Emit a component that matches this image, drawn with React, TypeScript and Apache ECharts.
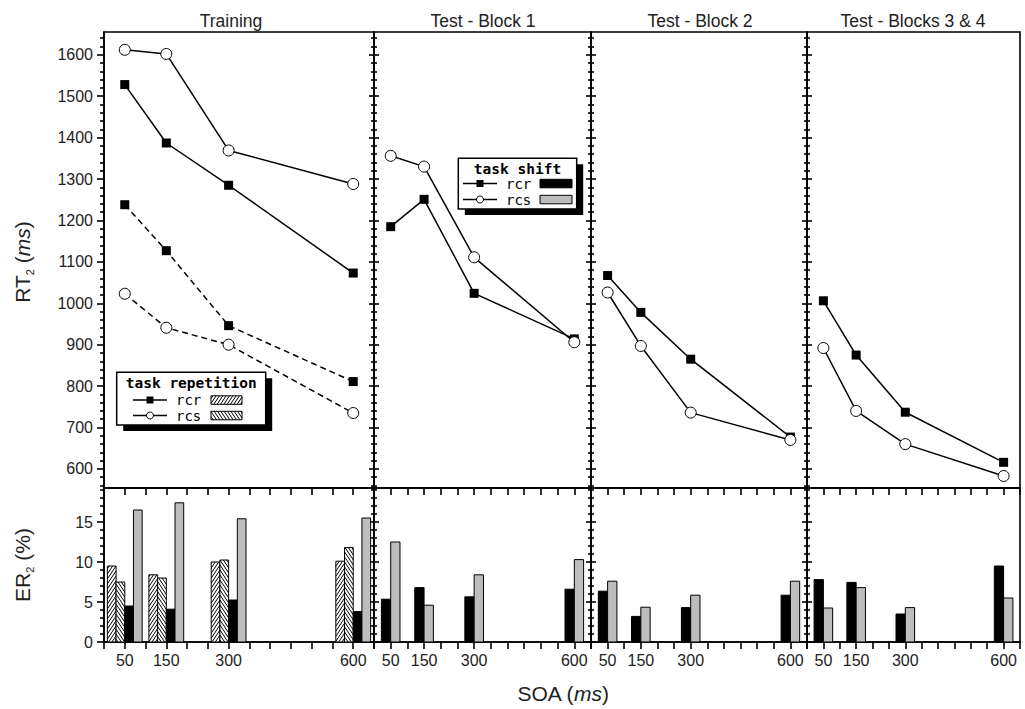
import React, { useEffect, useRef } from "react";
import * as echarts from "echarts";

// ---------- data ----------
const SOA = [50, 150, 300, 600];
const PANEL_TITLES = ["Training", "Test - Block 1", "Test - Block 2", "Test - Blocks 3 & 4"];

// RT2 (ms)
const TRAIN_SHIFT_RCR = [1528, 1387, 1285, 1073];
const TRAIN_SHIFT_RCS = [1612, 1602, 1369, 1288];
const TRAIN_REP_RCR = [1238, 1127, 946, 811];
const TRAIN_REP_RCS = [1023, 941, 900, 735];
const B1_RCR = [1185, 1251, 1024, 914];
const B1_RCS = [1356, 1330, 1111, 906];
const B2_RCR = [1067, 978, 865, 677];
const B2_RCS = [1026, 897, 736, 670];
const B34_RCR = [1006, 875, 737, 616];
const B34_RCS = [892, 740, 660, 583];

// ER2 (%)
const TRAIN_ER_REP_RCR = [9.5, 8.4, 10.0, 10.1];
const TRAIN_ER_REP_RCS = [7.5, 8.0, 10.25, 11.8];
const TRAIN_ER_SHIFT_RCR = [4.5, 4.1, 5.25, 3.8];
const TRAIN_ER_SHIFT_RCS = [16.5, 17.4, 15.4, 15.5];
const B1_ER_RCR = [5.35, 6.8, 5.65, 6.6];
const B1_ER_RCS = [12.5, 4.6, 8.4, 10.3];
const B2_ER_RCR = [6.35, 3.2, 4.3, 5.85];
const B2_ER_RCS = [7.6, 4.35, 5.85, 7.6];
const B34_ER_RCR = [7.8, 7.45, 3.5, 9.5];
const B34_ER_RCS = [4.25, 6.8, 4.3, 5.5];

// tick labels
const RT_TICKS = [600, 700, 800, 900, 1000, 1100, 1200, 1300, 1400, 1500, 1600];
const ER_TICKS = [0, 5, 10, 15];
const SOA_TICKS = [50, 150, 300, 600];

// ---------- layout ----------
const TOP_Y = 32;
const TOP_H = 456;
const BOT_Y = 488;
const BOT_H = 154;
const PANEL_X: number[][] = [
  [104, 270],
  [374, 217],
  [591, 216],
  [807, 213],
];
const RT_MIN = 554;
const RT_MAX = 1655;
const ER_MIN = 0;
const ER_MAX = 19.25;
const SOA_MIN = 0;
const SOA_MAX = 650;
const GRAY = "#bdbdbd";
const FONT = "Liberation Sans";
const MONO = "DejaVu Sans Mono";

const RT_MINOR: number[] = [];
for (let v = 560; v <= 1640; v += 20) if (v % 100 !== 0) RT_MINOR.push(v);
const ER_MINOR: number[] = [];
for (let v = 1; v <= 19; v++) if (v % 5 !== 0) ER_MINOR.push(v);

// ---------- helpers ----------
function hatch(x0: number, y0: number, x1: number, y1: number, dir: number, k = 1.5, step = 5) {
  const segs: number[][] = [];
  if (dir === 1) {
    const cmin = k * x0 + y0;
    const cmax = k * x1 + y1;
    for (let c = Math.ceil(cmin / step) * step; c <= cmax; c += step) {
      const xa = Math.max(x0, (c - y1) / k);
      const xb = Math.min(x1, (c - y0) / k);
      if (xb - xa > 0.2) segs.push([xa, c - k * xa, xb, c - k * xb]);
    }
  } else {
    const cmin = k * x0 - y1;
    const cmax = k * x1 - y0;
    for (let c = Math.ceil(cmin / step) * step; c <= cmax; c += step) {
      const xa = Math.max(x0, (c + y0) / k);
      const xb = Math.min(x1, (c + y1) / k);
      if (xb - xa > 0.2) segs.push([xa, k * xa - c, xb, k * xb - c]);
    }
  }
  return segs;
}

function swatchChildren(x: number, y: number, w: number, h: number, kind: string) {
  const ch: any[] = [];
  const fill = kind === "black" ? "#000" : kind === "gray" ? GRAY : "#fff";
  ch.push({ type: "rect", shape: { x, y, width: w, height: h }, style: { fill, stroke: "none" } });
  if (kind === "fwd" || kind === "back") {
    hatch(x, y, x + w, y + h, kind === "fwd" ? 1 : -1).forEach((s) =>
      ch.push({ type: "line", shape: { x1: s[0], y1: s[1], x2: s[2], y2: s[3] }, style: { stroke: "#000", lineWidth: 1 } })
    );
  }
  ch.push({ type: "rect", shape: { x, y, width: w, height: h }, style: { fill: "none", stroke: "#000", lineWidth: 1 } });
  return ch;
}

function buildOption() {
  const grids: any[] = [];
  const xAxes: any[] = [];
  const yAxes: any[] = [];
  const series: any[] = [];
  const topY: number[] = [];
  const botY: number[] = [];

  const tickStyle = { color: "#000", width: 1.6 };

  for (let r = 0; r < 2; r++) {
    for (let p = 0; p < 4; p++) {
      const gi = r * 4 + p;
      const isTop = r === 0;
      grids.push({
        left: PANEL_X[p][0],
        width: PANEL_X[p][1],
        top: isTop ? TOP_Y : BOT_Y,
        height: isTop ? TOP_H : BOT_H,
        show: true,
        borderColor: "#000",
        borderWidth: 1.6,
        backgroundColor: "transparent",
      });
      xAxes.push({
        type: "value",
        gridIndex: gi,
        min: SOA_MIN,
        max: SOA_MAX,
        interval: 50,
        position: "bottom",
        splitLine: { show: false },
        axisLine: { show: true, lineStyle: { color: "#000", width: 1.6 } },
        axisTick: { show: true, inside: false, length: 7, lineStyle: tickStyle },
        axisLabel: isTop
          ? { show: false }
          : {
              show: true,
              customValues: SOA_TICKS,
              formatter: (v: number) => String(v),
              fontSize: 16,
              fontFamily: FONT,
              color: "#222",
              margin: 10,
            },
      });
      const min = isTop ? RT_MIN : ER_MIN;
      const max = isTop ? RT_MAX : ER_MAX;
      const majors = isTop ? RT_TICKS : ER_TICKS;
      const minors = isTop ? RT_MINOR : ER_MINOR;
      const base = { type: "value", gridIndex: gi, min, max, position: "left", splitLine: { show: false } };
      const mainIdx = yAxes.length;
      yAxes.push({
        ...base,
        axisLine: { show: true, lineStyle: { color: "#000", width: 1.6 } },
        axisTick: { show: true, inside: false, customValues: majors, length: p === 0 ? 7 : 5, lineStyle: tickStyle },
        axisLabel:
          p === 0
            ? {
                show: true,
                customValues: majors,
                formatter: (v: number) => String(v),
                fontSize: 16,
                fontFamily: FONT,
                color: "#222",
                margin: 11,
              }
            : { show: false },
      });
      yAxes.push({
        ...base,
        axisLine: { show: false },
        axisTick: { show: true, inside: false, customValues: minors, length: p === 0 ? 4 : 3, lineStyle: tickStyle },
        axisLabel: { show: false },
      });
      if (p > 0) {
        yAxes.push({
          ...base,
          axisLine: { show: false },
          axisTick: { show: true, inside: true, customValues: majors, length: 5, lineStyle: tickStyle },
          axisLabel: { show: false },
        });
        yAxes.push({
          ...base,
          axisLine: { show: false },
          axisTick: { show: true, inside: true, customValues: minors, length: 3, lineStyle: tickStyle },
          axisLabel: { show: false },
        });
      }
      if (isTop) topY.push(mainIdx);
      else botY.push(mainIdx);
    }
  }

  const line = (vals: number[], p: number, marker: string, dashed: boolean) => ({
    type: "line",
    xAxisIndex: p,
    yAxisIndex: topY[p],
    data: SOA.map((s, i) => [s, vals[i]]),
    symbol: marker === "square" ? "rect" : "circle",
    symbolSize: marker === "square" ? 9 : 11,
    showSymbol: true,
    silent: true,
    clip: false,
    z: marker === "square" ? 3 : 4,
    lineStyle: { color: "#000", width: 1.5, type: dashed ? [6, 4] : "solid" },
    itemStyle:
      marker === "square"
        ? { color: "#000", borderWidth: 0 }
        : { color: "#fff", borderColor: "#000", borderWidth: 1 },
  });

  series.push(line(TRAIN_SHIFT_RCR, 0, "square", false));
  series.push(line(TRAIN_SHIFT_RCS, 0, "circle", false));
  series.push(line(TRAIN_REP_RCR, 0, "square", true));
  series.push(line(TRAIN_REP_RCS, 0, "circle", true));
  series.push(line(B1_RCR, 1, "square", false));
  series.push(line(B1_RCS, 1, "circle", false));
  series.push(line(B2_RCR, 2, "square", false));
  series.push(line(B2_RCS, 2, "circle", false));
  series.push(line(B34_RCR, 3, "square", false));
  series.push(line(B34_RCS, 3, "circle", false));

  const bars = (vals: number[], p: number, idx: number, n: number, w: number, kind: string) => ({
    type: "custom",
    coordinateSystem: "cartesian2d",
    xAxisIndex: 4 + p,
    yAxisIndex: botY[p],
    silent: true,
    clip: false,
    data: SOA.map((s, i) => [s, vals[i]]),
    renderItem: (params: any, api: any) => {
      const x = api.value(0);
      const v = api.value(1);
      const p0 = api.coord([x, 0]);
      const p1 = api.coord([x, v]);
      const left = p0[0] + (idx - n / 2) * w;
      return { type: "group", children: swatchChildren(left, p1[1], w, p0[1] - p1[1], kind) };
    },
  });

  series.push(bars(TRAIN_ER_REP_RCR, 0, 0, 4, 8.7, "fwd"));
  series.push(bars(TRAIN_ER_REP_RCS, 0, 1, 4, 8.7, "back"));
  series.push(bars(TRAIN_ER_SHIFT_RCR, 0, 2, 4, 8.7, "black"));
  series.push(bars(TRAIN_ER_SHIFT_RCS, 0, 3, 4, 8.7, "gray"));
  series.push(bars(B1_ER_RCR, 1, 0, 2, 9.3, "black"));
  series.push(bars(B1_ER_RCS, 1, 1, 2, 9.3, "gray"));
  series.push(bars(B2_ER_RCR, 2, 0, 2, 9.3, "black"));
  series.push(bars(B2_ER_RCS, 2, 1, 2, 9.3, "gray"));
  series.push(bars(B34_ER_RCR, 3, 0, 2, 9.3, "black"));
  series.push(bars(B34_ER_RCS, 3, 1, 2, 9.3, "gray"));

  // ---------- graphics: titles, axis names, legends ----------
  const graphic: any[] = [];
  const titleX = [231, 483, 700, 913];
  PANEL_TITLES.forEach((t, i) =>
    graphic.push({
      type: "text",
      x: titleX[i],
      y: 21,
      silent: true,
      style: { text: t, fontSize: 17.5, fontFamily: FONT, fill: "#222", align: "center", verticalAlign: "middle" },
    })
  );
  const rich = {
    a: { fontSize: 21, fontFamily: FONT, fill: "#222", lineHeight: 26, verticalAlign: "middle" },
    i: { fontSize: 21, fontFamily: FONT, fontStyle: "italic", fill: "#222", lineHeight: 26, verticalAlign: "middle" },
    s: { fontSize: 11, fontFamily: FONT, fill: "#222", lineHeight: 11, verticalAlign: "bottom" },
  };
  graphic.push({
    type: "text",
    x: 22,
    y: 262,
    rotation: Math.PI / 2,
    silent: true,
    style: { text: "{a|RT}{s|2}{a| (}{i|ms}{a|)}", rich, align: "center", verticalAlign: "middle" },
  });
  graphic.push({
    type: "text",
    x: 22,
    y: 565,
    rotation: Math.PI / 2,
    silent: true,
    style: { text: "{a|ER}{s|2}{a| (%)}", rich, align: "center", verticalAlign: "middle" },
  });
  graphic.push({
    type: "text",
    x: 563,
    y: 693,
    silent: true,
    style: { text: "{a|SOA (}{i|ms}{a|)}", rich, align: "center", verticalAlign: "middle" },
  });

  const legend = (
    bx: number,
    by: number,
    bw: number,
    bh: number,
    title: string,
    rowY: number[],
    lineX: number[],
    textX: number,
    swX: number[],
    swKinds: string[]
  ) => {
    const ch: any[] = [];
    ch.push({ type: "rect", shape: { x: bx + 6.5, y: by + 6, width: bw, height: bh }, style: { fill: "#000" } });
    ch.push({ type: "rect", shape: { x: bx, y: by, width: bw, height: bh }, style: { fill: "#fff", stroke: "#000", lineWidth: 1.5 } });
    ch.push({
      type: "text",
      x: bx + bw / 2,
      y: by + 10.5,
      style: { text: title, fontSize: 14.5, fontWeight: "bold", fontFamily: MONO, fill: "#000", align: "center", verticalAlign: "middle" },
    });
    const labels = ["rcr", "rcs"];
    rowY.forEach((ry, i) => {
      const mx = (lineX[0] + lineX[1]) / 2;
      ch.push({ type: "line", shape: { x1: lineX[0], y1: ry, x2: lineX[1], y2: ry }, style: { stroke: "#000", lineWidth: 1.5 } });
      if (i === 0) ch.push({ type: "rect", shape: { x: mx - 3.5, y: ry - 3.5, width: 7, height: 7 }, style: { fill: "#000" } });
      else ch.push({ type: "circle", shape: { cx: mx, cy: ry, r: 3.5 }, style: { fill: "#fff", stroke: "#000", lineWidth: 1 } });
      ch.push({
        type: "text",
        x: textX,
        y: ry,
        style: { text: labels[i], fontSize: 14, fontFamily: MONO, fill: "#000", align: "left", verticalAlign: "middle" },
      });
      swatchChildren(swX[0], ry - 4.2, swX[1] - swX[0], 8.5, swKinds[i]).forEach((c) => ch.push(c));
    });
    return { type: "group", silent: true, z: 100, children: ch };
  };

  graphic.push(legend(116.7, 372.3, 149, 52.7, "task repetition", [400, 415.5], [133, 167], 176, [211, 242], ["fwd", "back"]));
  graphic.push(legend(458.3, 158.3, 118.4, 50.7, "task shift", [183.5, 199.5], [463, 497], 506, [540, 572], ["black", "gray"]));

  return {
    animation: false,
    backgroundColor: "#fff",
    textStyle: { fontFamily: FONT },
    grid: grids,
    xAxis: xAxes,
    yAxis: yAxes,
    series,
    graphic,
  };
}

export default function App() {
  const ref = useRef<HTMLDivElement>(null);
  useEffect(() => {
    const chart = echarts.init(ref.current as HTMLDivElement, null, { renderer: "svg" });
    chart.setOption(buildOption() as any);
    return () => chart.dispose();
  }, []);
  return (
    <div
      ref={ref}
      style={{ position: "fixed", left: 0, top: 0, width: 1025, height: 709, background: "#fff" }}
    />
  );
}
